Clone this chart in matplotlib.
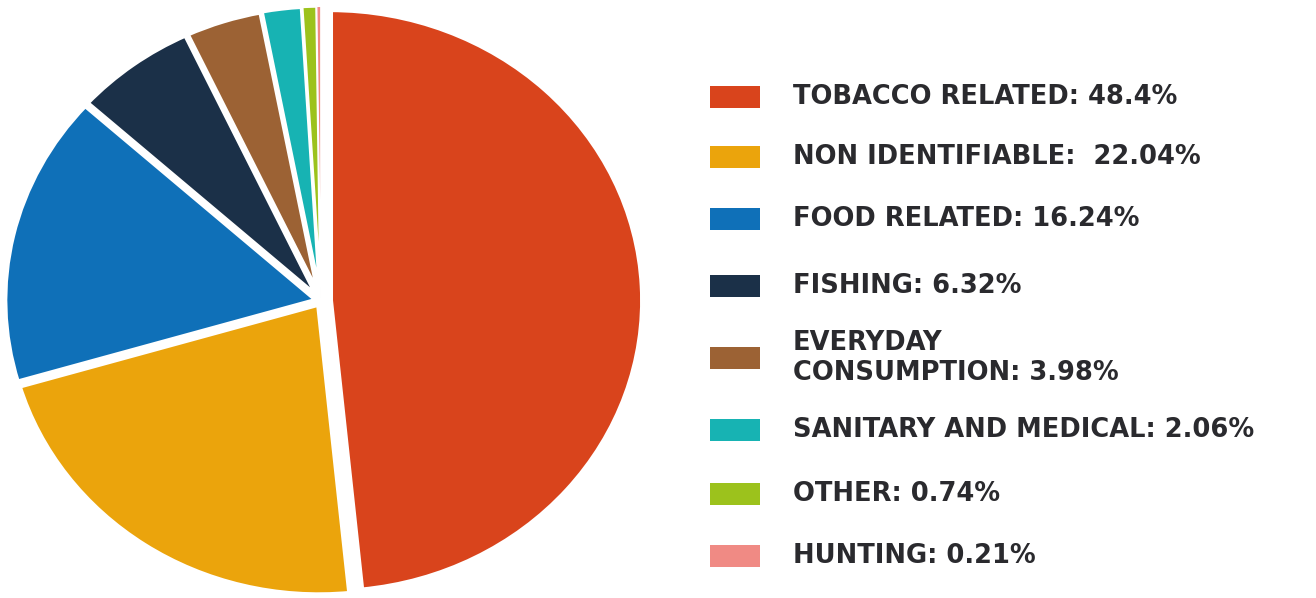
import matplotlib
matplotlib.use("Agg")
import matplotlib.pyplot as plt
from matplotlib.patches import Rectangle

categories = ["TOBACCO RELATED", "NON IDENTIFIABLE", "FOOD RELATED", "FISHING",
              "EVERYDAY\nCONSUMPTION", "SANITARY AND MEDICAL", "OTHER", "HUNTING"]
values = [48.4, 22.04, 16.24, 6.32, 3.98, 2.06, 0.74, 0.21]
value_labels = ["48.4%", " 22.04%", "16.24%", "6.32%", "3.98%", "2.06%", "0.74%", "0.21%"]
colors = ["#D9441C", "#EBA40C", "#0F70B8", "#1B3048", "#9C6234", "#17B3B3", "#9CC21C", "#F08A84"]

W, H = 1316, 598
fig = plt.figure(figsize=(W / 100, H / 100), dpi=100)

# pie axes (pixel box, slightly elliptical like the reference)
px0, px1, py0, py1 = 2, 646, 4, 598
pax = fig.add_axes([px0 / W, 1 - py1 / H, (px1 - px0) / W, (py1 - py0) / H])
wedges, _ = pax.pie(values, colors=colors, startangle=90, counterclock=False,
                    radius=1.0, explode=[0.03, 0.012, 0.012, 0.012, 0.012, 0.012, 0.012, 0.012],
                    wedgeprops=dict(edgecolor="white", linewidth=4))
for w, lw in zip(wedges, [4, 4, 4, 4, 4, 3, 2, 1]):
    w.set_linewidth(lw)
pax.set_aspect("auto")
pax.set_xlim(-1.02, 1.04)
pax.set_ylim(-1.02, 1.02)
pax.axis("off")

# legend
ax = fig.add_axes([0, 0, 1, 1])
ax.set_xlim(0, W)
ax.set_ylim(0, H)
ax.axis("off")
ax.patch.set_alpha(0)

row_y = [97, 157, 219, 286, 358, 430, 494, 556]
for cat, vl, col, yc in zip(categories, value_labels, colors, row_y):
    y = H - yc
    ax.add_patch(Rectangle((710, y - 11), 50, 22, facecolor=col, edgecolor="none"))
    ax.text(793, y, f"{cat}: {vl}", ha="left", va="center", fontsize=18.5,
            fontweight="bold", color="#2A2A2E", family="DejaVu Sans",
            linespacing=1.2)

fig.savefig("out.png", dpi=100, facecolor="white")
